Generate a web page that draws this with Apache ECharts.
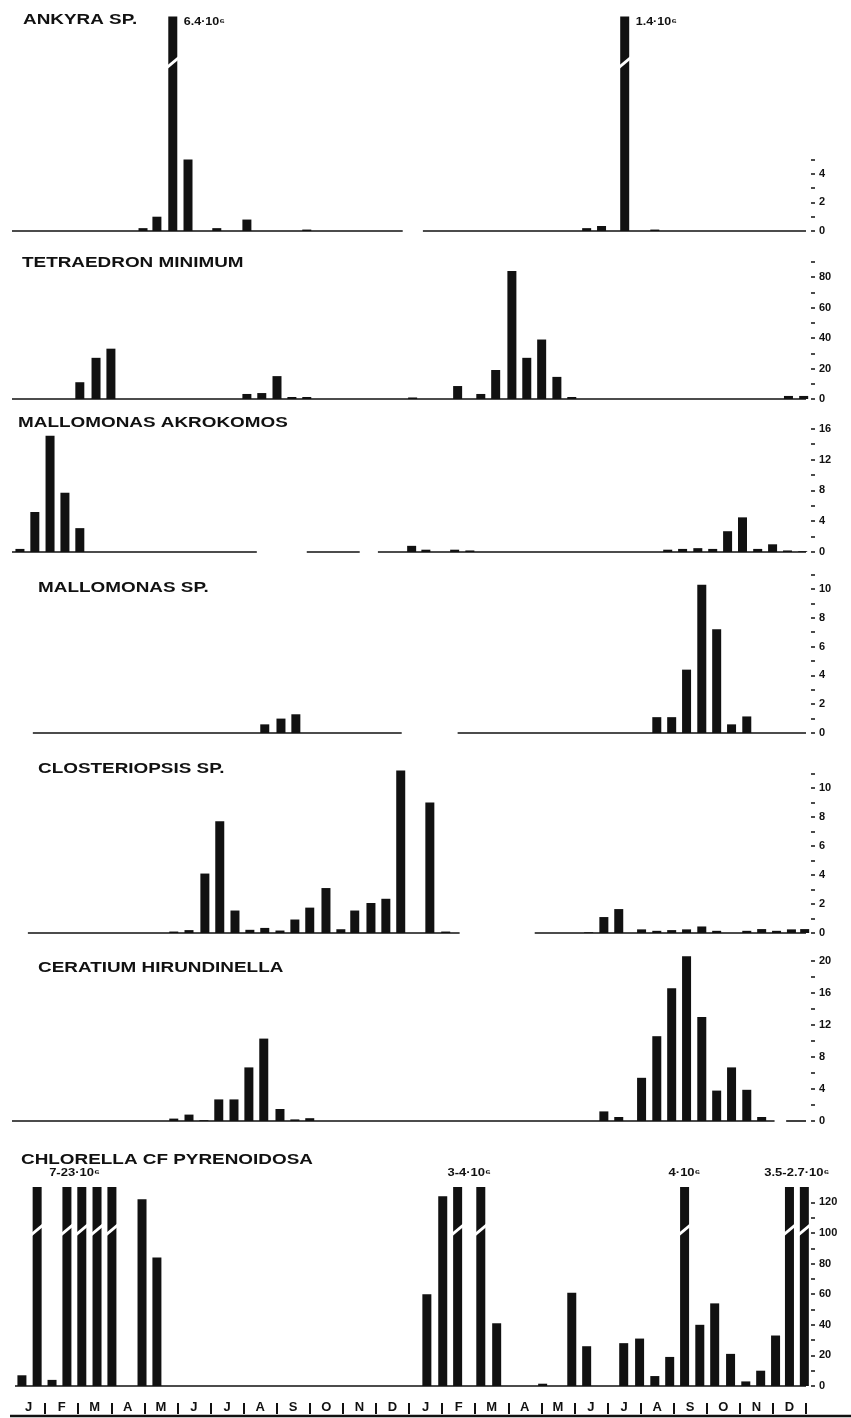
<!DOCTYPE html>
<html>
<head>
<meta charset="utf-8">
<script src="https://cdn.jsdelivr.net/npm/echarts@6/dist/echarts.min.js"></script>
<style>
  html, body { margin: 0; padding: 0; background: #fff; }
  #chart { width: 851px; height: 1418px; }
</style>
</head>
<body>
<div id="chart"></div>
<script>
// Sampling dates are given in months counted from 1 January of the first year (0 to 24).
const monthLetters = ['J', 'F', 'M', 'A', 'M', 'J', 'J', 'A', 'S', 'O', 'N', 'D'];

// ANKYRA SP.
const ankyraDates = [3.96, 4.38, 5.32, 6.19, 7.10, 8.91, 17.37, 17.82, 19.43];
const ankyraValues = [0.2, 1.0, 5.0, 0.2, 0.8, 0.1, 0.2, 0.35, 0.1];
const ankyraOffScale = [
  { dates: [4.86], stated: [6.4e6] },
  { dates: [18.52], stated: [1.4e6] }
];
const ankyraSampled = [[0, 11.81], [12.42, 24]];
const ankyraTicks = [0, 1, 2, 3, 4, 5];
const ankyraTickLabels = [0, 2, 4];

// TETRAEDRON MINIMUM
const tetraedronDates = [2.05, 2.54, 2.99, 7.10, 7.55, 8.01, 8.46, 8.91, 12.11, 13.47, 14.17, 14.62, 15.11, 15.56, 16.01, 16.47, 16.92, 23.47, 23.93];
const tetraedronValues = [11, 27, 33, 3.3, 3.9, 15, 1.3, 1.3, 1, 8.5, 3.3, 19, 84, 27, 39, 14.5, 1.3, 2, 2];
const tetraedronSampled = [[0, 24]];
const tetraedronTicks = [0, 10, 20, 30, 40, 50, 60, 70, 80, 90];
const tetraedronTickLabels = [0, 20, 40, 60, 80];

// MALLOMONAS AKROKOMOS
const akrokomosDates = [0.24, 0.69, 1.15, 1.60, 2.05, 12.08, 12.51, 13.38, 13.84, 19.82, 20.27, 20.73, 21.18, 21.63, 22.08, 22.54, 22.99, 23.44, 23.90];
const akrokomosValues = [0.4, 5.2, 15.1, 7.7, 3.1, 0.8, 0.3, 0.3, 0.2, 0.3, 0.4, 0.5, 0.4, 2.7, 4.5, 0.4, 1.0, 0.2, 0.1];
const akrokomosSampled = [[0, 7.40], [8.91, 10.51], [11.06, 24]];
const akrokomosTicks = [0, 2, 4, 6, 8, 10, 12, 14, 16];
const akrokomosTickLabels = [0, 4, 8, 12, 16];

// MALLOMONAS SP.
const mallomonasDates = [7.64, 8.13, 8.58, 19.49, 19.94, 20.39, 20.85, 21.30, 21.75, 22.21];
const mallomonasValues = [0.6, 1.0, 1.3, 1.1, 1.1, 4.4, 10.3, 7.2, 0.6, 1.15];
const mallomonasSampled = [[0.63, 11.78], [13.47, 24]];
const mallomonasTicks = [0, 1, 2, 3, 4, 5, 6, 7, 8, 9, 10, 11];
const mallomonasTickLabels = [0, 2, 4, 6, 8, 10];

// CLOSTERIOPSIS SP.
const closteriopsisDates = [4.89, 5.35, 5.83, 6.28, 6.74, 7.19, 7.64, 8.10, 8.55, 9.00, 9.49, 9.94, 10.36, 10.85, 11.30, 11.75, 12.63, 13.11,
  17.43, 17.89, 18.34, 19.03, 19.49, 19.94, 20.39, 20.85, 21.30, 22.21, 22.66, 23.11, 23.56, 23.96];
const closteriopsisValues = [0.1, 0.2, 4.1, 7.7, 1.55, 0.22, 0.35, 0.17, 0.93, 1.75, 3.1, 0.26, 1.55, 2.07, 2.36, 11.2, 9.0, 0.1,
  0.05, 1.1, 1.65, 0.25, 0.15, 0.2, 0.25, 0.45, 0.15, 0.15, 0.27, 0.15, 0.25, 0.27];
const closteriopsisSampled = [[0.48, 13.53], [15.8, 24]];
const closteriopsisTicks = [0, 1, 2, 3, 4, 5, 6, 7, 8, 9, 10, 11];
const closteriopsisTickLabels = [0, 2, 4, 6, 8, 10];

// CERATIUM HIRUNDINELLA
const ceratiumDates = [4.89, 5.35, 5.80, 6.25, 6.71, 7.16, 7.61, 8.10, 8.55, 9.00,
  17.89, 18.34, 19.03, 19.49, 19.94, 20.39, 20.85, 21.30, 21.75, 22.21, 22.66];
const ceratiumValues = [0.3, 0.8, 0.1, 2.7, 2.7, 6.7, 10.3, 1.5, 0.2, 0.35,
  1.2, 0.5, 5.4, 10.6, 16.6, 20.6, 13, 3.8, 6.7, 3.9, 0.5];
const ceratiumSampled = [[0, 23.05], [23.4, 24]];
const ceratiumTicks = [0, 2, 4, 6, 8, 10, 12, 14, 16, 18, 20];
const ceratiumTickLabels = [0, 4, 8, 12, 16, 20];

// CHLORELLA CF PYRENOIDOSA
const chlorellaDates = [0.30, 1.21, 3.93, 4.38, 12.54, 13.02, 14.65, 16.04, 16.92, 17.37, 18.49, 18.97, 19.43, 19.88, 20.79, 21.24, 21.72, 22.18, 22.63, 23.08];
const chlorellaValues = [7, 4, 122, 84, 60, 124, 41, 1.5, 61, 26, 28, 31, 6.5, 19, 40, 54, 21, 3, 10, 33];
const chlorellaOffScale = [
  { dates: [0.76, 1.66, 2.11, 2.57, 3.02], stated: [7e6, 23e6] },
  { dates: [13.47, 14.17], stated: [3e6, 4e6] },
  { dates: [20.33], stated: [4e6] },
  { dates: [23.50, 23.95], stated: [3.5e6, 2.7e6] }
];
const chlorellaSampled = [[0.09, 24]];
const chlorellaTicks = [0, 10, 20, 30, 40, 50, 60, 70, 80, 90, 100, 110, 120];
const chlorellaTickLabels = [0, 20, 40, 60, 80, 100, 120];

// ---- drawing ----
const INK = '#111';
const FONT = '"Liberation Sans", Arial, Helvetica, sans-serif';
const BAR_W = 9;
const BREAK_AT = 0.785;      // height (share of the panel) where off-scale bars are broken
const PLOT_LEFT = 12, PLOT_RIGHT = 806;

const panels = [
  { name: 'ANKYRA SP.', dates: ankyraDates, values: ankyraValues, off: ankyraOffScale, sampled: ankyraSampled, ticks: ankyraTicks, tickLabels: ankyraTickLabels },
  { name: 'TETRAEDRON MINIMUM', dates: tetraedronDates, values: tetraedronValues, off: [], sampled: tetraedronSampled, ticks: tetraedronTicks, tickLabels: tetraedronTickLabels },
  { name: 'MALLOMONAS AKROKOMOS', dates: akrokomosDates, values: akrokomosValues, off: [], sampled: akrokomosSampled, ticks: akrokomosTicks, tickLabels: akrokomosTickLabels },
  { name: 'MALLOMONAS SP.', dates: mallomonasDates, values: mallomonasValues, off: [], sampled: mallomonasSampled, ticks: mallomonasTicks, tickLabels: mallomonasTickLabels },
  { name: 'CLOSTERIOPSIS SP.', dates: closteriopsisDates, values: closteriopsisValues, off: [], sampled: closteriopsisSampled, ticks: closteriopsisTicks, tickLabels: closteriopsisTickLabels },
  { name: 'CERATIUM HIRUNDINELLA', dates: ceratiumDates, values: ceratiumValues, off: [], sampled: ceratiumSampled, ticks: ceratiumTicks, tickLabels: ceratiumTickLabels },
  { name: 'CHLORELLA CF PYRENOIDOSA', dates: chlorellaDates, values: chlorellaValues, off: chlorellaOffScale, sampled: chlorellaSampled, ticks: chlorellaTicks, tickLabels: chlorellaTickLabels }
];

// Panel frames: top of the plotting band, zero line, axis maximum, title anchor.
const frames = [
  { top: 16.5, base: 231, max: 15, titleX: 23, titleY: 20, offLabel: 'right' },
  { top: 261.75, base: 399, max: 90, titleX: 22, titleY: 263 },
  { top: 425, base: 552, max: 16.5, titleX: 18, titleY: 423 },
  { top: 574.6, base: 733, max: 11, titleX: 38, titleY: 588 },
  { top: 766.25, base: 933, max: 11.5, titleX: 38, titleY: 769 },
  { top: 953, base: 1121, max: 21, titleX: 38, titleY: 968 },
  { top: 1187.1, base: 1386, max: 130, titleX: 21, titleY: 1160, offLabel: 'above' }
];

function statedText(list) {
  return list.map(v => String(Math.round(v / 1e5) / 10)).join('-') + '·10⁶';
}

function barRenderer(max) {
  return function (params, api) {
    const d = api.value(0);
    const v = Math.min(api.value(1), max);
    const b = api.coord([d, 0]);
    const t = api.coord([d, v]);
    return {
      type: 'rect',
      shape: { x: b[0] - BAR_W / 2, y: t[1], width: BAR_W, height: b[1] - t[1] },
      style: { fill: INK }
    };
  };
}

function offBarRenderer(max) {
  return function (params, api) {
    const d = api.value(0);
    const b = api.coord([d, 0]);
    const t = api.coord([d, Math.min(api.value(1), max)]);
    const k = api.coord([d, max * BREAK_AT]);
    const x0 = b[0] - BAR_W / 2 - 1.5, x1 = b[0] + BAR_W / 2 + 1.5;
    const rise = 5, th = 1.8;
    return {
      type: 'group',
      children: [
        { type: 'rect', shape: { x: b[0] - BAR_W / 2, y: t[1], width: BAR_W, height: b[1] - t[1] }, style: { fill: INK } },
        { type: 'polygon', shape: { points: [[x0, k[1] + rise + th], [x1, k[1] - rise + th], [x1, k[1] - rise - th], [x0, k[1] + rise - th]] }, style: { fill: '#fff' } }
      ]
    };
  };
}

function offLabelRenderer(groups, max, side) {
  return function (params, api) {
    const g = groups[api.value(1)];
    const first = api.coord([g.dates[0], max]);
    const mid = api.coord([api.value(0), max]);
    const text = statedText(g.stated);
    if (side === 'right') {
      return { type: 'text', x: first[0] + 11, y: first[1] + 6, scaleX: 1.25,
        style: { text, font: 'bold 10px ' + FONT, fill: INK, align: 'left', verticalAlign: 'middle' } };
    }
    return { type: 'text', x: mid[0], y: mid[1] - 14, scaleX: 1.3,
      style: { text, font: 'bold 10px ' + FONT, fill: INK, align: 'center', verticalAlign: 'middle' } };
  };
}

function sampledRenderer(params, api) {
  const a = api.coord([api.value(0), 0]);
  const b = api.coord([api.value(1), 0]);
  return { type: 'line', shape: { x1: a[0], y1: a[1], x2: b[0], y2: b[1] }, style: { stroke: INK, lineWidth: 1.6 } };
}

const n = panels.length;
const last = n - 1;

// Data grids (0..n-1) followed by one scale grid per panel that carries only
// the labelled stretch of the right-hand axis.
const grids = frames.map(f => ({ left: PLOT_LEFT, width: PLOT_RIGHT - PLOT_LEFT, top: f.top, height: f.base - f.top }));
panels.forEach((p, i) => {
  const f = frames[i];
  const tickMax = p.ticks[p.ticks.length - 1];
  const h = (f.base - f.top) * tickMax / f.max;
  grids.push({ left: PLOT_LEFT, width: PLOT_RIGHT - PLOT_LEFT, top: f.base - h, height: h });
});

const xAxes = panels.map((p, i) => ({ gridIndex: i, type: 'value', min: 0, max: 24, show: false }));
panels.forEach((p, i) => xAxes.push({ gridIndex: n + i, type: 'value', min: 0, max: 24, show: false }));
// Month strip under the last panel.
xAxes.push({
  gridIndex: last, type: 'category', position: 'bottom', offset: 28, boundaryGap: true,
  data: Array.from({ length: 24 }, (_, i) => monthLetters[i % 12]),
  axisLine: { show: false, onZero: false }, splitLine: { show: false },
  axisTick: { show: true, inside: true, length: 11, interval: idx => idx !== 0, lineStyle: { color: INK, width: 2 } },
  axisLabel: { inside: true, margin: 0, interval: 0, color: INK, fontSize: 13, fontWeight: 'bold', fontFamily: FONT }
});

const yAxes = frames.map((f, i) => ({ gridIndex: i, type: 'value', min: 0, max: f.max, show: false }));
panels.forEach((p, i) => {
  const tickMax = p.ticks[p.ticks.length - 1];
  yAxes.push({
    gridIndex: n + i, type: 'value', position: 'right', offset: 5,
    min: 0, max: tickMax, interval: p.ticks[1] - p.ticks[0],
    axisLine: { show: false, onZero: false }, splitLine: { show: false },
    axisTick: { show: true, length: 4, lineStyle: { color: INK, width: 1.5 } },
    axisLabel: {
      margin: 8, color: INK, fontSize: 11, fontWeight: 'bold', fontFamily: FONT,
      formatter: v => (p.tickLabels.indexOf(v) >= 0 ? String(v) : '')
    }
  });
});

const series = [];
panels.forEach((p, i) => {
  const f = frames[i];
  series.push({
    type: 'custom', xAxisIndex: i, yAxisIndex: i, z: 1, silent: true,
    renderItem: sampledRenderer, encode: { x: [0, 1] },
    data: p.sampled
  });
  series.push({
    type: 'custom', xAxisIndex: i, yAxisIndex: i, z: 2, silent: true,
    renderItem: barRenderer(f.max), encode: { x: 0, y: 1 },
    data: p.dates.map((d, k) => [d, p.values[k]])
  });
  if (p.off.length) {
    const offData = [];
    p.off.forEach(g => g.dates.forEach(d => offData.push([d, Math.max(...g.stated)])));
    series.push({
      type: 'custom', xAxisIndex: i, yAxisIndex: i, z: 3, silent: true,
      renderItem: offBarRenderer(f.max), encode: { x: 0, y: 1 },
      data: offData
    });
    series.push({
      type: 'custom', xAxisIndex: i, yAxisIndex: i, z: 4, silent: true,
      renderItem: offLabelRenderer(p.off, f.max, f.offLabel), encode: { x: 0 },
      data: p.off.map((g, k) => [(g.dates[0] + g.dates[g.dates.length - 1]) / 2, k])
    });
  }
});

const graphic = panels.map((p, i) => ({
  type: 'text', x: frames[i].titleX, y: frames[i].titleY, scaleX: 1.35,
  style: { text: p.name, font: 'bold 14px ' + FONT, fill: INK, align: 'left', verticalAlign: 'middle' }
}));
graphic.push({ type: 'line', shape: { x1: 10, y1: 1416, x2: 851, y2: 1416 }, style: { stroke: INK, lineWidth: 2.5 } });

const chart = echarts.init(document.getElementById('chart'), null, { renderer: 'canvas' });
chart.setOption({
  animation: false,
  backgroundColor: '#fff',
  grid: grids,
  xAxis: xAxes,
  yAxis: yAxes,
  series,
  graphic
});
</script>
</body>
</html>
